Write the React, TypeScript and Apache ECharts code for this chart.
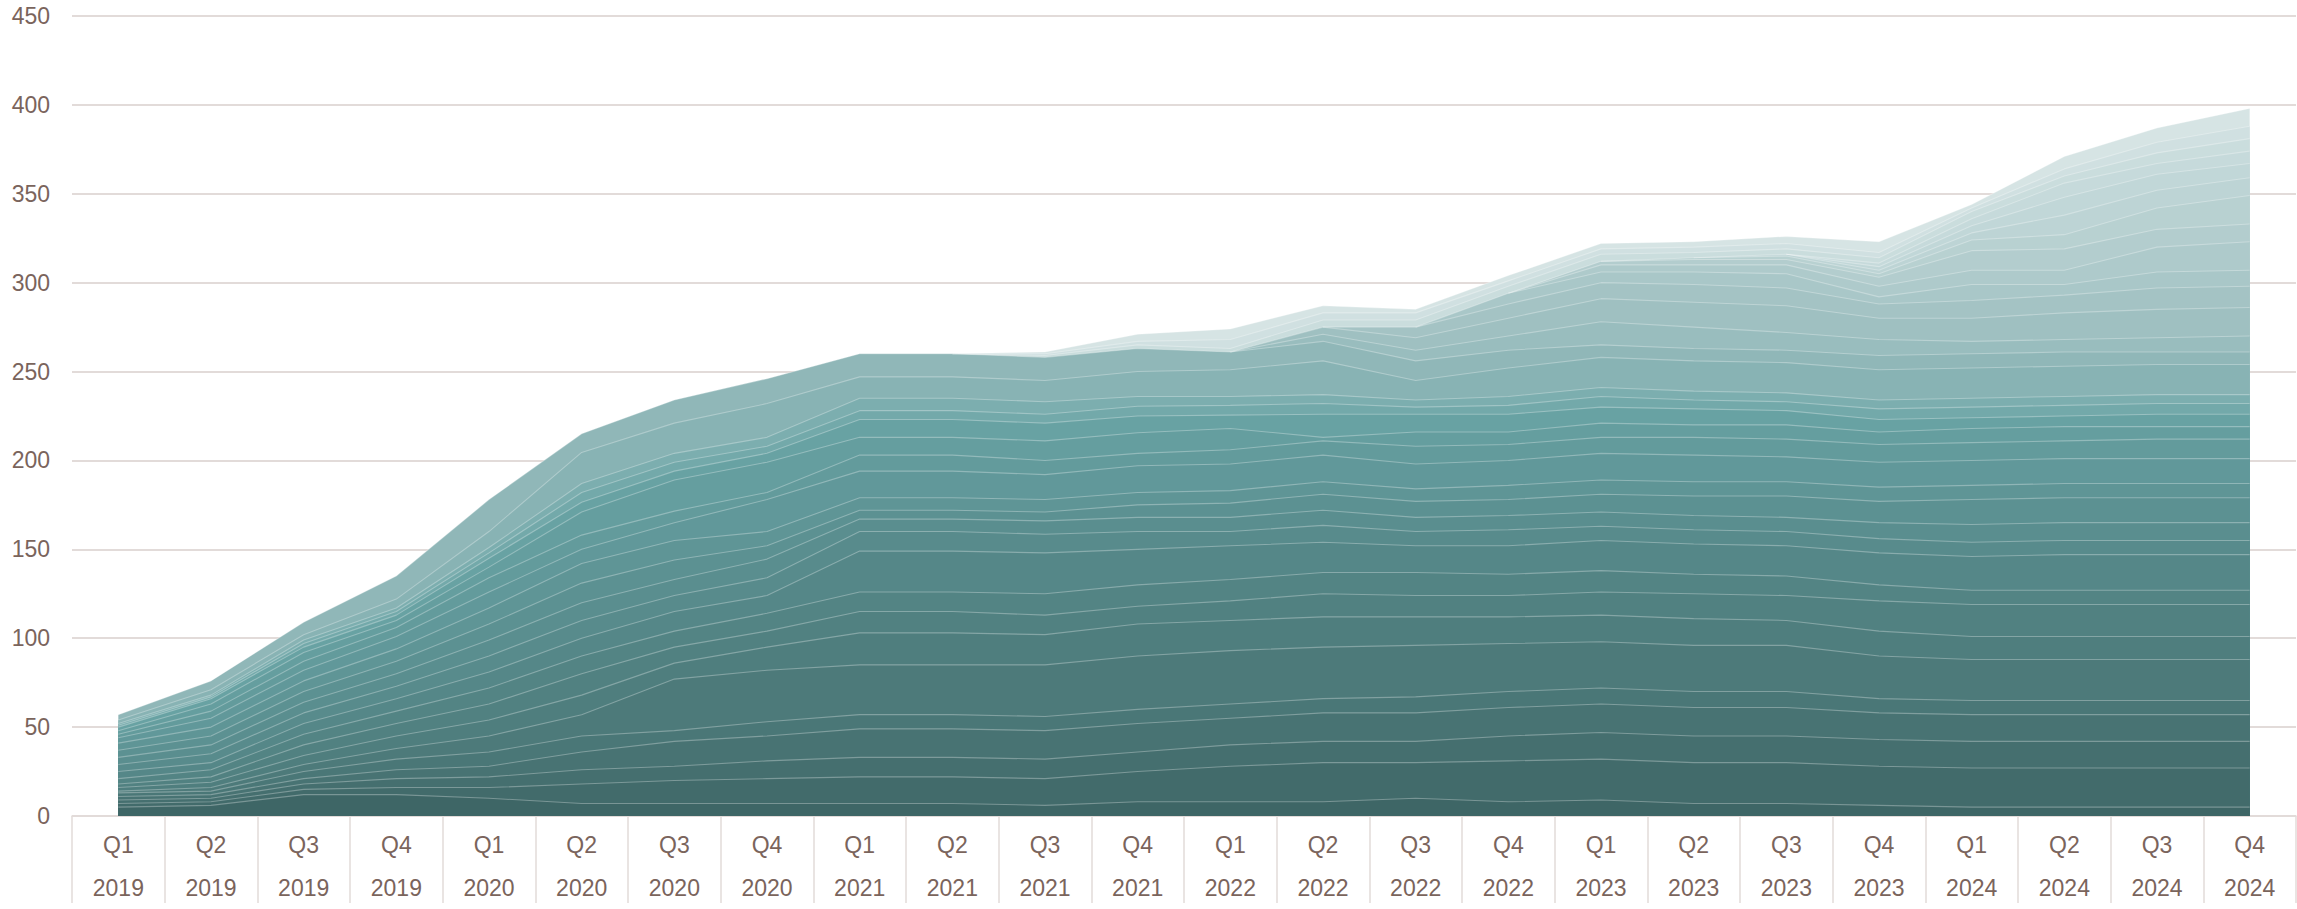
import React, { useEffect, useRef } from "react";
import * as echarts from "echarts";

const quarterLabels = ["Q1","Q2","Q3","Q4","Q1","Q2","Q3","Q4","Q1","Q2","Q3","Q4","Q1","Q2","Q3","Q4","Q1","Q2","Q3","Q4","Q1","Q2","Q3","Q4"];
const yearLabels = ["2019","2019","2019","2019","2020","2020","2020","2020","2021","2021","2021","2021","2022","2022","2022","2022","2023","2023","2023","2023","2024","2024","2024","2024"];

// Cumulative top of each layer (bottom to top) in each quarter.
// null / unlisted = that layer is not present in that quarter.
const q1_2019 = [5,7,9,11,13,14,16,18,21,25,29,33,37,41,44,46,48,50,51,52,54,57];
const q2_2019 = [6,8,10,12,14,16,19,22,26,30,35,40,45,50,55,59,63,66,67,68,71,76];
const q3_2019 = [12,15,18,21,25,29,34,40,46,52,58,64,70,76,82,87,92,95,97,99,102,109];
const q4_2019 = [12,16,21,26,32,38,45,52,59,66,73,80,87,94,101,106,110,113,115,117,122,135];
const q1_2020 = [10,16,22,28,36,45,54,63,72,81,90,99,108,117,126,134,140,145,148,151,160,178];
const q2_2020 = [7,18,26,36,45,57,68,80,90,100,110,120,131,142,150,158,171,176.5,182,187,204.5,215];
const q3_2020 = [7,20,28,42,48,77,86,95,104,115,124,133,144,155,165,171.5,189,194,199,204,221,234];
const q4_2020 = [7,21,31,45,53,82,95,104,114,124,134,144.5,152,160,178,182,199,204,208,213,232,246];
const q1_2021 = [7,22,33,49,57,85,103,115,126,149,160,167,172,179,194,203,213,223,228,235,247,260];
const q2_2021 = [7,22,33,49,57,85,103,115,126,149,160,167,172,179,194,203,213,223,228,235,247,260,
  null,null,null,null,null,null,null,null,null,null,260,260,260];
const q3_2021 = [6,21,32,48,56,85,102,113,125,148,158.5,166,171,178,192,200,211,221,226,233,245,258,
  null,null,null,null,null,null,null,null,null,null,259,260,261];
const q4_2021 = [8,25,36,52,60,90,108,118,130,150,160,168,175,182,197,204,215.6,225,230.5,236,250,263,
  null,null,null,null,null,null,null,null,null,null,265,267,271];
const q1_2022 = [8,28,40,55,63,93,110,121,133,152,160,168,176,183,198,206,218,225.5,231,236,251,261,
  261,261,null,null,null,null,null,null,null,null,263,268,274];
const q2_2022 = [8,30,42,58,66,95,112,125,137,154,163.5,172,181,188,203,211,213,226,232,237,256,267,
  271,275,275,null,null,null,null,null,null,null,279,283,287];
const q3_2022 = [10,30,42,58,67,96,112,124,137,152,160,168,177,184,198,208,216,226,230,234,245,256,
  262,269,275,275,null,null,null,null,null,null,279,283,285];
const q4_2022 = [8,31,45,61,70,97,112,124,136,152,161,169,178,186,200,209,216,226,231,236,252,262,
  270,280,288,294,294,294,null,null,null,null,298,301,304];
const q1_2023 = [9,32,47,63,72,98,113,126,138,155,163,171,181,189,204,213,221,230,236,241,258,265,
  278,291,300,306,310,312,312,null,null,null,316,319,322];
const q2_2023 = [7,30,45,61,70,96,111,125,136,153,161,169,180,188,203,213,220,229,234,239,256,263,
  275,289,299,306,310,313,314,314,null,null,317,320,323];
const q3_2023 = [7,30,45,61,70,96,110,124,135,152,160,168,180,188,202,212,220,228,233,238,255,262,
  272,287,297,305,310,313,315,316,316,316,319,322,326];
const q4_2023 = [6,28,43,58,66,90,104,121,130,148,156,165,177,185,199,209,216,223,229,234,251,259,
  268,280,288,292,298,303,305,307,309,311,314,317,323];
const q1_2024 = [5,27,42,57,65,88,101,119,127,146,154,164,178,186,200,210,218,224,230,235,252,260,
  267,280,290,299,307,318,324,328,332,336,340,342,344];
const q2_2024 = [5,27,42,57,65,88,101,119,127,147,155,165,179,187,201,211,219,225,231,236,253,261,
  268,283,293,299,307,319,327,338,348,356,360,364,371];
const q3_2024 = [5,27,42,57,65,88,101,119,127,147,155,165,179,187,201,212,219,226,232,237,254,261,
  269,285,297,306,320,330,342,352,361,367,373,379,387];
const q4_2024 = [5,27,42,57,65,88,101,119,127,147,155,165,179,187,201,212,219,226,232,237,254,261,
  270,286,298,307,323,333,349,359,367,374,381,388,398];

const quarterTops = [
  q1_2019, q2_2019, q3_2019, q4_2019,
  q1_2020, q2_2020, q3_2020, q4_2020,
  q1_2021, q2_2021, q3_2021, q4_2021,
  q1_2022, q2_2022, q3_2022, q4_2022,
  q1_2023, q2_2023, q3_2023, q4_2023,
  q1_2024, q2_2024, q3_2024, q4_2024,
];

// Layer colours, bottom to top
const layerColors = [
  "#3e6666","#426b6b","#456f6f","#487373","#4a7777","#4d7a7a","#4f7e7e","#518181",
  "#538484","#558788","#588b8c","#5a8e8f","#5c9192","#5f9596","#61989a","#639b9c",
  "#659e9f","#68a2a3","#73a9aa","#7caeaf","#88b3b4","#90b7b8",
  "#99bdbe","#9fc0c1","#a4c3c4","#a9c7c8","#aecacb","#b3cdce","#b8d1d1","#bdd4d5",
  "#c1d7d8","#c6dadb","#cadddd","#d0e0e1","#d6e4e4",
];

const TEXT = "#7a645c";
const RULE = "#e2dbd9";
const FONT = "'Liberation Sans', Arial, sans-serif";

export default function App() {
  const ref = useRef<HTMLDivElement>(null);

  useEffect(() => {
    if (!ref.current) return;
    const chart = echarts.init(ref.current, null, { renderer: "svg" });
    const series: any[] = [];
    for (let j = layerColors.length - 1; j >= 0; j--) {
      series.push({
        type: "line",
        name: "Layer " + (j + 1),
        data: quarterTops.map((arr) => {
          const v = (arr as (number | null)[])[j];
          return v === undefined ? null : v;
        }),
        connectNulls: false,
        symbol: "none",
        showSymbol: false,
        silent: true,
        lineStyle: { color: "rgba(255,255,255,0.3)", width: 1.1 },
        areaStyle: { color: layerColors[j], opacity: 1 },
        emphasis: { disabled: true },
      });
    }
    chart.setOption({
      animation: false,
      textStyle: { fontFamily: FONT },
      grid: { left: 72, right: 1, top: 16, bottom: 87, containLabel: false },
      xAxis: {
        type: "category",
        boundaryGap: true,
        data: quarterLabels.map((q, i) => q + "\n" + yearLabels[i]),
        axisLine: { show: true, lineStyle: { color: RULE, width: 1.5 } },
        axisTick: { show: true, interval: 0, length: 87, lineStyle: { color: RULE, width: 1.5 } },
        axisLabel: {
          interval: 0,
          margin: 7,
          color: TEXT,
          fontSize: 23,
          lineHeight: 43,
          fontFamily: FONT,
        },
      },
      yAxis: {
        type: "value",
        min: 0,
        max: 450,
        interval: 50,
        axisLine: { show: false },
        axisTick: { show: false },
        axisLabel: { color: TEXT, fontSize: 23, margin: 22, fontFamily: FONT },
        splitLine: { show: true, lineStyle: { color: RULE, width: 2 } },
      },
      series,
    });
    return () => chart.dispose();
  }, []);

  return (
    <div
      ref={ref}
      style={{ position: "fixed", left: 0, top: 0, width: "2297px", height: "909px", background: "#fff" }}
    />
  );
}
